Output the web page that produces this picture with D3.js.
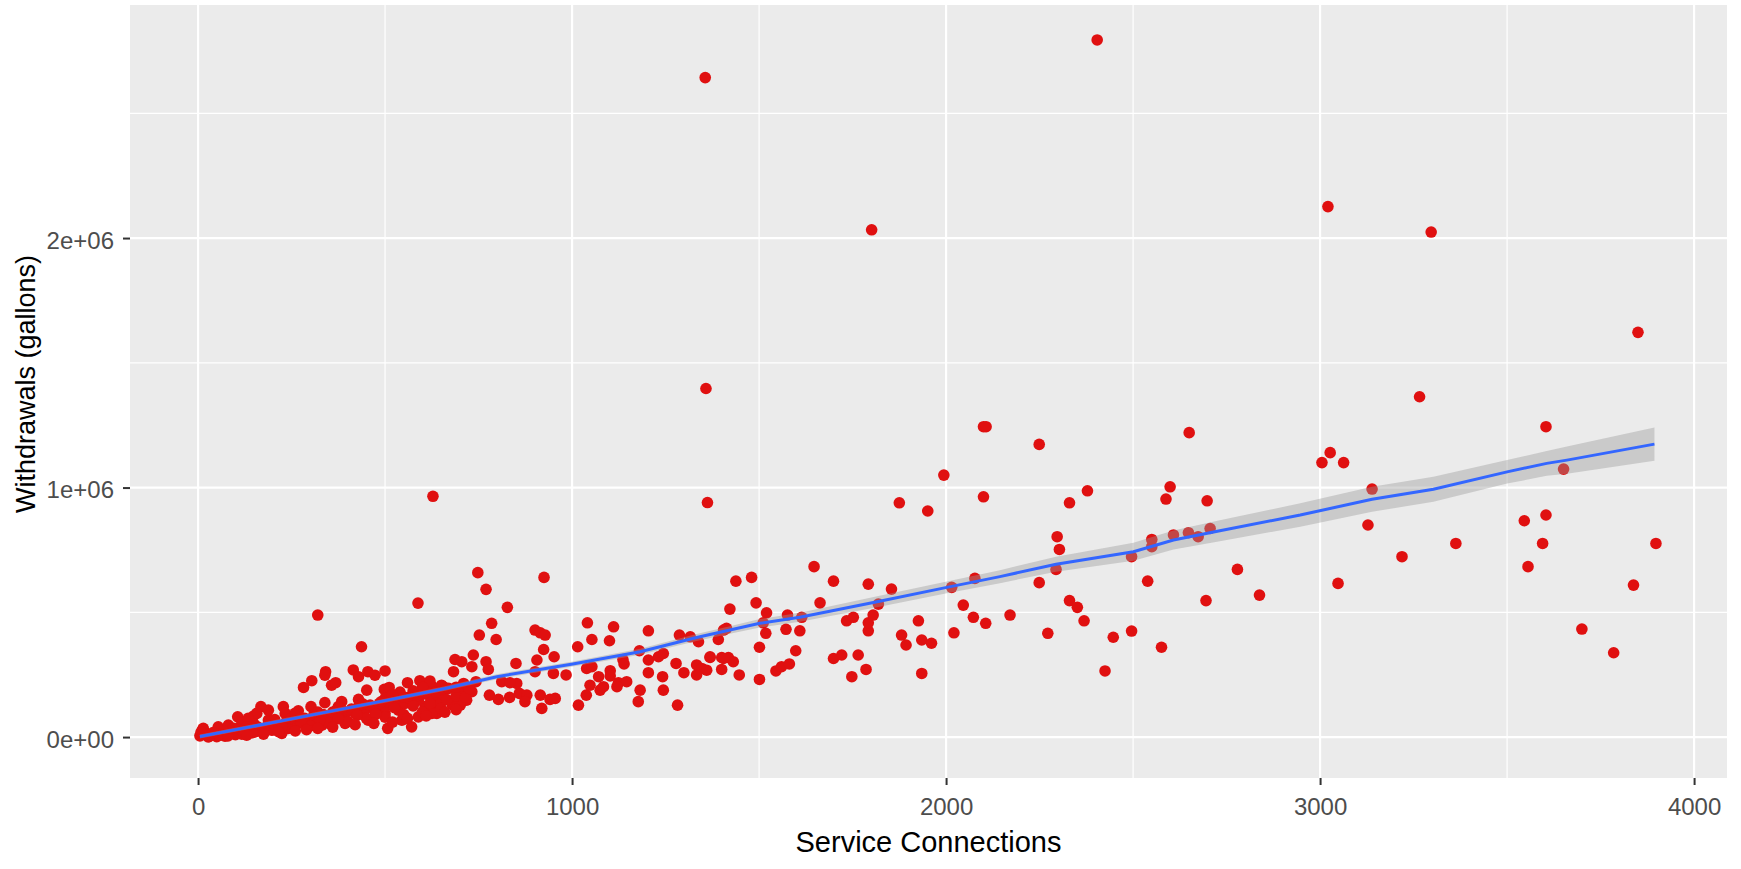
<html>
  <head>
    <meta charset="utf-8" />
    <title>Withdrawals vs Service Connections</title>
    <script src="https://cdn.jsdelivr.net/npm/d3@7"></script>
  </head>
  <style>
    html,
    body {
      margin: 0;
      padding: 0;
      background: #ffffff;
    }
    svg {
      display: block;
      font-family: "Liberation Sans", Arial, sans-serif;
    }
  </style>
  <body>
    <svg width="1741" height="869" id="mainsvg"></svg>
    <script>
      // ---- data: [service connections, withdrawals (gallons)] ----
      const outliers = [
        [1356, 2643000], [2404, 2794000], [1801, 2033000], [3021, 2126000],
        [3297, 2024000], [3850, 1622000], [1358, 1397000], [1362, 940000],
        [628, 965000], [588, 537000], [320, 489000]
      ];

      const midPoints = [
        [1391, 391000], [1422, 513000], [1438, 625000], [1480, 640000], [1413, 436000],
        [1369, 319000], [1400, 319000], [1418, 319000], [1431, 302000], [1400, 271000],
        [1447, 249000], [1492, 538000], [1520, 498000], [1511, 458000], [1518, 416000],
        [1501, 360000], [1501, 231000], [1545, 265000], [1560, 282000], [1581, 293000],
        [1598, 346000], [1572, 432000], [1576, 489000], [1609, 426000], [1614, 480000],
        [1647, 683000], [1663, 538000], [1699, 625000], [1699, 315000], [1721, 329000],
        [1734, 466000], [1752, 480000], [1748, 242000], [1765, 329000], [1786, 271000],
        [1792, 613000], [1792, 426000], [1792, 458000], [1805, 489000], [1819, 533000],
        [1854, 593000], [1875, 939000], [1881, 409000], [1893, 369000], [1926, 466000],
        [1935, 389000], [1961, 376000], [1935, 255000], [1951, 906000], [1994, 1050000],
        [2015, 600000], [2021, 418000], [2046, 529000], [2073, 480000], [2077, 636000],
        [2100, 1244000], [2107, 1244000], [2100, 963000], [2106, 456000], [2171, 489000],
        [2249, 1173000], [2249, 619000], [2272, 416000], [2294, 672000], [2297, 803000],
        [2303, 752000], [2330, 939000], [2330, 547000], [2351, 520000], [2369, 466000],
        [2378, 987000], [2425, 265000], [2447, 400000], [2496, 723000], [2496, 425000],
        [2539, 625000], [2550, 792000], [2550, 763000], [2576, 360000], [2588, 954000],
        [2599, 1003000], [2608, 810000], [2648, 819000], [2650, 1220000], [2674, 803000],
        [2698, 947000], [2695, 547000], [2706, 836000], [2779, 672000], [2838, 569000]
      ];

      const highPoints = [
        [3266, 1364000], [3027, 1140000], [3005, 1100000], [3063, 1100000], [3139, 994000],
        [3128, 850000], [3219, 723000], [3048, 616000], [3363, 776000], [3604, 1244000],
        [3651, 1074000], [3546, 867000], [3604, 890000], [3595, 776000], [3556, 683000],
        [3700, 433000], [3785, 338000], [3898, 776000], [3838, 609000]
      ];

      const lowPoints = [
        [748, 659000], [770, 592000], [925, 640000], [827, 520000], [785, 456000],
        [752, 409000], [797, 391000], [901, 429000], [915, 418000], [928, 409000],
        [924, 351000], [952, 322000], [687, 311000], [705, 302000], [683, 262000],
        [736, 329000], [732, 282000], [770, 302000], [776, 271000], [850, 295000],
        [906, 309000], [901, 262000], [950, 255000], [984, 249000], [1015, 362000],
        [1041, 458000], [1053, 391000], [1100, 386000], [1111, 442000], [1039, 275000],
        [1053, 282000], [1071, 242000], [1102, 266000], [1102, 245000], [1136, 311000],
        [1139, 293000], [1124, 218000], [1146, 222000], [1180, 346000], [1204, 426000],
        [1204, 309000], [1231, 322000], [1244, 335000], [1204, 258000], [1242, 242000],
        [1244, 188000], [1182, 188000], [1177, 142000], [1282, 128000], [1278, 295000],
        [1287, 409000], [1316, 402000], [1338, 382000], [1299, 258000], [1333, 289000],
        [1347, 275000], [1360, 268000], [1333, 249000], [1369, 322000], [1405, 315000],
        [1405, 429000], [1017, 128000], [1038, 168000], [1048, 208000], [1075, 188000],
        [1084, 202000], [1120, 202000], [629, 162000], [647, 148000], [634, 122000],
        [652, 175000], [638, 95000], [656, 202000], [625, 202000], [705, 175000],
        [718, 148000], [732, 182000], [701, 128000], [779, 168000], [803, 151000],
        [833, 159000], [859, 175000], [879, 168000], [874, 142000], [852, 215000],
        [812, 222000], [834, 218000], [915, 168000], [919, 115000], [941, 151000],
        [955, 155000], [743, 222000]
      ];

      const densePoints = [
        [437, 362000], [341, 262000], [339, 248000], [415, 269000], [429, 242000],
        [454, 262000], [473, 248000], [500, 265000], [304, 226000], [282, 199000],
        [357, 208000], [368, 218000], [451, 188000], [498, 191000], [511, 199000],
        [560, 218000], [593, 226000], [625, 204000], [651, 208000], [168, 122000],
        [106, 81000], [148, 84000], [157, 95000], [228, 122000], [233, 95000],
        [268, 105000], [302, 122000], [339, 138000], [384, 142000], [429, 151000],
        [14, 35000], [54, 41000], [81, 48000], [117, 55000], [188, 68000],
        [197, 28000], [224, 15000], [241, 35000], [268, 55000], [304, 68000],
        [331, 48000], [366, 81000], [393, 55000], [429, 108000], [455, 68000],
        [482, 115000], [500, 95000], [507, 35000], [536, 108000], [571, 41000],
        [580, 148000], [607, 122000], [625, 95000], [643, 148000], [589, 81000],
        [545, 68000], [27, 1000], [45, 8000], [72, 4000], [90, 15000],
        [117, 12000], [143, 17000], [170, 21000], [206, 35000], [233, 48000],
        [259, 55000], [286, 68000], [313, 75000], [339, 81000], [366, 84000],
        [393, 95000], [420, 95000], [446, 108000], [473, 101000], [500, 122000],
        [527, 128000], [553, 135000], [589, 148000], [625, 162000], [651, 175000],
        [188, 108000], [134, 75000], [259, 95000], [375, 122000], [500, 155000],
        [5, 5000], [12, 30000], [20, 12000], [8, 20000]
      ];

      const bandPoints = [
        [35, 10000], [60, 15000], [85, 22000], [110, 30000], [135, 35000],
        [160, 40000], [185, 45000], [210, 50000], [235, 60000], [260, 65000],
        [285, 75000], [310, 82000], [335, 90000], [360, 100000], [385, 108000],
        [410, 112000], [435, 120000], [460, 128000], [485, 135000], [510, 140000],
        [535, 150000], [560, 158000], [585, 165000], [610, 172000], [635, 180000],
        [660, 190000], [50, 2000], [100, 10000], [150, 20000], [200, 30000],
        [250, 38000], [300, 45000], [350, 55000], [400, 62000], [450, 75000],
        [500, 80000], [550, 90000], [600, 100000], [650, 115000], [680, 130000],
        [700, 140000], [70, 25000], [130, 40000], [190, 58000], [250, 75000],
        [310, 90000], [370, 108000], [430, 125000], [490, 142000], [550, 160000],
        [610, 178000], [670, 195000],
        [55, 8000], [120, 22000], [175, 32000], [225, 42000], [275, 58000],
        [325, 66000], [375, 74000], [425, 88000], [475, 92000], [525, 118000],
        [575, 125000], [620, 135000], [665, 150000], [690, 165000], [715, 160000],
        [690, 200000], [710, 215000], [725, 195000], [620, 225000], [600, 200000],
        [575, 185000], [540, 180000], [520, 170000],
        [30, 3000], [80, 5000], [130, 8000], [175, 12000], [215, 22000],
        [260, 25000], [290, 30000], [320, 35000], [360, 40000], [420, 50000],
        [470, 55000], [520, 60000], [560, 75000], [610, 85000], [660, 100000],
        [690, 110000], [40, 18000], [95, 35000], [150, 52000], [205, 70000],
        [260, 86000], [320, 100000], [380, 116000], [440, 133000]
      ];

      // smoother (loess) line and its standard error band
      const fitX = [5, 233, 500, 660, 799, 1002, 1182, 1333, 1422, 1502, 1609, 1819, 2002,
        2144, 2294, 2501, 2608, 2732, 2947, 3139, 3303, 3500, 3606, 3660, 3894];
      const fitY = [2000, 68000, 146000, 195000, 242000, 293000, 342000, 399000, 429000,
        456000, 480000, 543000, 600000, 643000, 693000, 743000, 790000, 827000, 890000,
        953000, 993000, 1063000, 1097000, 1110000, 1174000];
      const fitSE = [8000, 8000, 8000, 9000, 10000, 10000, 12000, 14000, 15000, 17000,
        18000, 22000, 24000, 26000, 30000, 36000, 38000, 42000, 47000, 50000, 50000,
        47000, 50000, 55000, 67000];

      const xTicks = [0, 1000, 2000, 3000, 4000];
      const xMinor = [500, 1500, 2500, 3500];
      const yTicks = [0, 1000000, 2000000];
      const yTickLabels = ["0e+00", "1e+06", "2e+06"];
      const yMinor = [500000, 1500000, 2500000];

      const points = [].concat(outliers, midPoints, highPoints, lowPoints, densePoints, bandPoints);
      const fit = fitX.map((x, i) => ({ x: x, y: fitY[i], se: fitSE[i] }));

      // ---- layout ----
      const svg = d3.select("#mainsvg");
      const panel = { left: 130, right: 1727, top: 5, bottom: 778 };

      const xScale = d3.scaleLinear().domain([-182, 4088]).range([panel.left, panel.right]);
      const yScale = d3.scaleLinear().domain([-164000, 2934000]).range([panel.bottom, panel.top]);

      svg.append("rect")
        .attr("width", 1741).attr("height", 869).attr("fill", "#ffffff");

      svg.append("rect")
        .attr("x", panel.left).attr("y", panel.top)
        .attr("width", panel.right - panel.left)
        .attr("height", panel.bottom - panel.top)
        .attr("fill", "#EBEBEB");

      const grid = svg.append("g");
      grid.selectAll(".xminor").data(xMinor).join("line")
        .attr("x1", d => xScale(d)).attr("x2", d => xScale(d))
        .attr("y1", panel.top).attr("y2", panel.bottom)
        .attr("stroke", "#ffffff").attr("stroke-width", 1.2);
      grid.selectAll(".yminor").data(yMinor).join("line")
        .attr("y1", d => yScale(d)).attr("y2", d => yScale(d))
        .attr("x1", panel.left).attr("x2", panel.right)
        .attr("stroke", "#ffffff").attr("stroke-width", 1.2);
      grid.selectAll(".xmajor").data(xTicks).join("line")
        .attr("x1", d => xScale(d)).attr("x2", d => xScale(d))
        .attr("y1", panel.top).attr("y2", panel.bottom)
        .attr("stroke", "#ffffff").attr("stroke-width", 2.2);
      grid.selectAll(".ymajor").data(yTicks).join("line")
        .attr("y1", d => yScale(d)).attr("y2", d => yScale(d))
        .attr("x1", panel.left).attr("x2", panel.right)
        .attr("stroke", "#ffffff").attr("stroke-width", 2.2);

      // points
      svg.append("g").selectAll("circle").data(points).join("circle")
        .attr("cx", d => xScale(d[0]))
        .attr("cy", d => yScale(d[1]))
        .attr("r", 5.8)
        .attr("fill", "#E01010");

      // smoother ribbon + line
      const area = d3.area()
        .x(d => xScale(d.x))
        .y0(d => yScale(d.y - d.se))
        .y1(d => yScale(d.y + d.se));
      svg.append("path").datum(fit)
        .attr("d", area)
        .attr("fill", "#999999")
        .attr("fill-opacity", 0.4);

      const line = d3.line().x(d => xScale(d.x)).y(d => yScale(d.y));
      svg.append("path").datum(fit)
        .attr("d", line)
        .attr("fill", "none")
        .attr("stroke", "#3366FF")
        .attr("stroke-width", 3);

      // axes
      const xAxis = svg.append("g")
        .attr("transform", `translate(0, ${panel.bottom})`)
        .call(d3.axisBottom(xScale).tickValues(xTicks).tickSize(7).tickPadding(9).tickFormat(d3.format("d")));
      const yAxis = svg.append("g")
        .attr("transform", `translate(${panel.left}, 0)`)
        .call(d3.axisLeft(yScale).tickValues(yTicks).tickSize(7).tickPadding(9)
          .tickFormat((d, i) => yTickLabels[i]));

      [xAxis, yAxis].forEach(g => {
        g.select(".domain").remove();
        g.selectAll(".tick line").attr("stroke", "#333333").attr("stroke-width", 2);
        g.selectAll(".tick text")
          .attr("fill", "#4D4D4D")
          .style("font-family", "'Liberation Sans', Arial, sans-serif")
          .style("font-size", "24px");
      });
      xAxis.selectAll(".tick text").attr("dy", null).attr("y", 37);
      yAxis.selectAll(".tick text").attr("dy", null).attr("y", 10).attr("x", -16);

      svg.append("text")
        .attr("x", (panel.left + panel.right) / 2)
        .attr("y", 852)
        .attr("text-anchor", "middle")
        .attr("fill", "#000000")
        .style("font-size", "29px")
        .text("Service Connections");

      svg.append("text")
        .attr("transform", "translate(35, 384) rotate(-90)")
        .attr("text-anchor", "middle")
        .attr("fill", "#000000")
        .style("font-size", "27px")
        .text("Withdrawals (gallons)");
    </script>
  </body>
</html>
